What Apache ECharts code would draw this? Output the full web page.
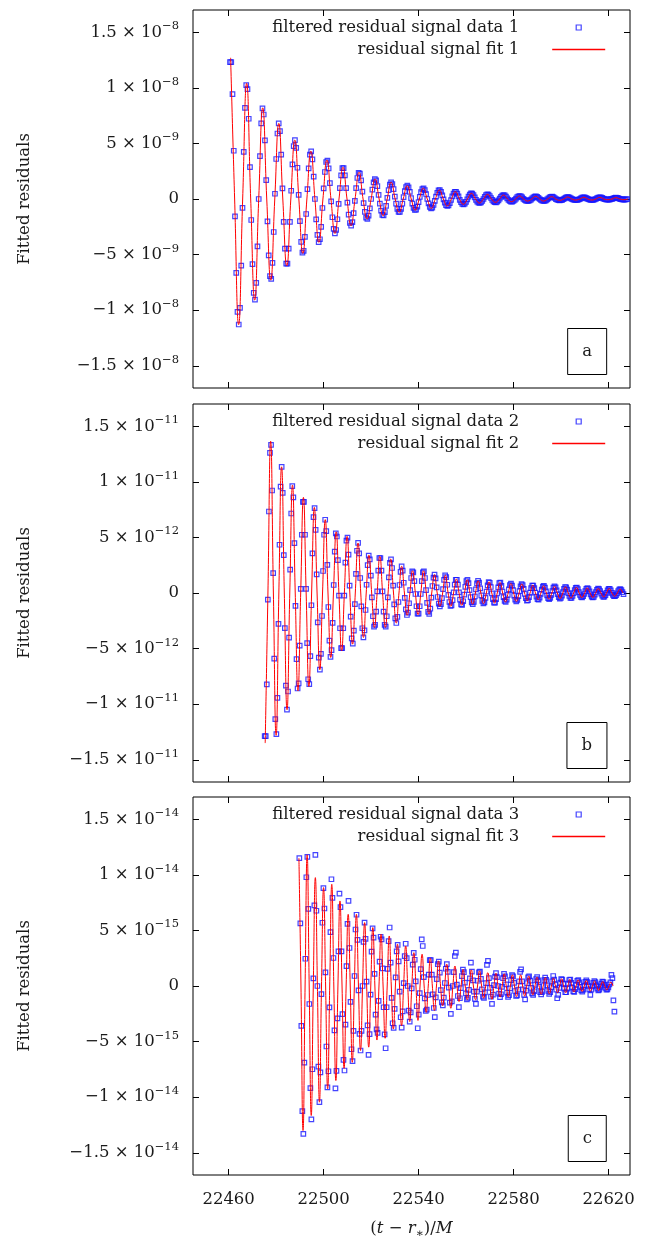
<!DOCTYPE html>
<html>
<head>
<meta charset="utf-8">
<script src="https://cdn.jsdelivr.net/npm/echarts@6/dist/echarts.min.js"></script>
<style>
  html, body { margin: 0; padding: 0; background: #fff; }
  #chart { width: 647px; height: 1243px; }
</style>
</head>
<body>
<div id="chart"></div>
<script>
  // tick positions
  const xTicks = [22460, 22500, 22540, 22580, 22620];
  const yTicks = [-15, -10, -5, 0, 5, 10, 15];

  // panel a : values in units of 1e-9, sampled from t = 22460.58 every 0.5258 M
  const dataA = [12.32,
    12.32, 9.44, 4.34, -1.57, -6.64, -10.16, -11.29, -9.79, -5.99, -0.79, 4.23, 8.20, 10.24,
    9.89, 7.22, 2.87, -1.89, -5.85, -8.44, -9.05, -7.54, -4.27, 0, 3.85, 6.80, 8.15,
    7.60, 5.27, 1.70, -2.01, -5.07, -6.94, -7.19, -5.75, -2.97, 0.47, 3.60, 5.89, 6.80,
    6.11, 4.00, 0.95, -2.05, -4.46, -5.82, -5.82, -4.46, -2.05, 0.74, 3.12, 4.76,
    5.30, 4.59, 2.81, 0.37, -1.99, -3.86, -4.83, -4.66, -3.40, -1.35, 0.89, 2.76, 3.99,
    4.28, 3.56, 2.02, 0, -1.83, -3.23, -3.88, -3.62, -2.51, -0.81, 0.96, 2.43, 3.33,
    3.45, 2.76, 1.42, -0.22, -1.64, -2.68, -3.10, -2.79, -1.82, -0.43, 0.97, 2.12, 2.77,
    2.77, 2.12, 0.97, -0.33, -1.41, -2.16, -2.40, -2.08, -1.27, -0.17, 0.98, 1.89, 2.36,
    2.28, 1.67, 0.66, -0.37, -1.16, -1.67, -1.79, -1.49, -0.85, 0, 0.85, 1.49, 1.79,
    1.67, 1.16, 0.37, -0.41, -1.04, -1.43, -1.48, -1.18, -0.61, 0.10, 0.79, 1.30, 1.50,
    1.35, 0.88, 0.21, -0.41, -0.89, -1.16, -1.16, -0.89, -0.41, 0.17, 0.71, 1.08,
    1.20, 1.04, 0.64, 0.08, -0.41, -0.79, -0.98, -0.95, -0.69, -0.28, 0.20, 0.62, 0.89,
    0.95, 0.80, 0.45, 0, -0.39, -0.70, -0.84, -0.78, -0.54, -0.17, 0.22, 0.56, 0.77,
    0.80, 0.64, 0.33, -0.04, -0.33, -0.55, -0.63, -0.57, -0.37, -0.09, 0.23, 0.49, 0.64,
    0.64, 0.49, 0.23, -0.07, -0.28, -0.43, -0.48, -0.42, -0.25, -0.03, 0.21, 0.40, 0.50,
    0.49, 0.35, 0.14, -0.07, -0.23, -0.33, -0.36, -0.30, -0.17, 0, 0.20, 0.35, 0.42,
    0.39, 0.27, 0.09, -0.08, -0.21, -0.29, -0.30, -0.24, -0.12, 0.03, 0.19, 0.31, 0.36,
    0.32, 0.21, 0.05, -0.08, -0.18, -0.23, -0.23, -0.18, -0.08, 0.04, 0.16, 0.24,
    0.27, 0.23, 0.14, 0.02, -0.07, -0.14, -0.18, -0.17, -0.13, -0.05, 0.05, 0.15, 0.22,
    0.24, 0.20, 0.11, 0, -0.08, -0.15, -0.18, -0.17, -0.12, -0.04, 0.06, 0.15, 0.20,
    0.21, 0.17, 0.09, -0.01, -0.06, -0.10, -0.12, -0.11, -0.07, -0.02, 0.06, 0.13, 0.17,
    0.17, 0.13, 0.06, -0.01, -0.05, -0.08, -0.09, -0.08, -0.05, -0.01, 0.06, 0.12, 0.15,
    0.14, 0.10, 0.04, -0.02, -0.06, -0.08, -0.09, -0.07, -0.04, 0, 0.07, 0.12, 0.15,
    0.14, 0.10, 0.03, -0.02, -0.04, -0.06, -0.06, -0.05, -0.02, 0.01, 0.06, 0.10, 0.12,
    0.11, 0.07, 0.02, -0.02, -0.04, -0.06, -0.06, -0.04, -0.02];
  // fit a : peak, node, trough, node ... from t = 22460.84 every 1.69 M
  const fitA = [12.7, 0, -11.3, 0, 10.4, 0, -9.1, 0, 8.2, 0, -7.3, 0, 6.8, 0, -6.0, 0,
    5.3, 0, -4.9, 0, 4.3, 0, -3.9, 0, 3.5, 0, -3.1, 0, 2.85, 0, -2.4, 0, 2.4, 0, -1.8, 0,
    1.8, 0, -1.5, 0, 1.5, 0, -1.2, 0, 1.2, 0, -1.0, 0, 0.96, 0, -0.84, 0, 0.81, 0, -0.63, 0,
    0.66, 0, -0.48, 0, 0.51, 0, -0.36, 0, 0.42, 0, -0.30, 0, 0.36, 0, -0.24, 0, 0.27, 0, -0.18, 0,
    0.24, 0, -0.18, 0, 0.21, 0, -0.12, 0, 0.18, 0, -0.09, 0, 0.15, 0, -0.09, 0, 0.15, 0, -0.06, 0,
    0.12, 0, -0.06, 0];

  // panel b : values in units of 1e-12, sampled from t = 22475.18 every 0.4470 M
  const dataB = [-12.87, -12.87, -8.22, -0.59, 7.33, 12.61,
    13.33, 9.22, 1.78, -5.91, -11.35, -12.69, -9.44, -2.77, 4.34, 9.57,
    11.34, 9.01, 3.41, -3.16, -8.33, -10.49, -8.86, -4.02, 2.10, 7.15, 9.62,
    8.60, 4.48, -1.15, -5.95, -8.59, -8.13, -4.73, 0.37, 5.24, 8.20,
    8.20, 5.24, 0.37, -4.51, -7.76, -8.20, -5.68, -1.10, 3.56, 6.83,
    7.63, 5.68, 1.67, -2.64, -5.82, -6.89, -5.47, -2.07, 1.98, 5.24, 6.59,
    5.57, 2.53, -1.26, -4.28, -5.75, -5.14, -2.68, 0.72, 3.72, 5.37,
    5.08, 2.96, -0.23, -3.17, -4.96, -4.96, -3.17, -0.23, 2.74, 4.71,
    4.98, 3.45, 0.67, -2.12, -4.08, -4.56, -3.39, -1.00, 1.72, 3.80,
    4.50, 3.57, 1.35, -1.20, -3.17, -4.00, -3.37, -1.53, 0.74, 2.51, 3.37,
    3.02, 1.57, -0.40, -2.09, -3.03, -2.86, -1.67, 0.14, 2.01, 3.15,
    3.15, 2.01, 0.14, -1.67, -2.86, -3.03, -2.09, -0.40, 1.41, 2.71,
    3.02, 2.25, 0.66, -1.03, -2.28, -2.70, -2.14, -0.81, 0.72, 1.90, 2.40,
    2.02, 0.92, -0.43, -1.47, -1.98, -1.77, -0.92, 0.26, 1.35, 1.95,
    1.85, 1.07, -0.09, -1.19, -1.86, -1.86, -1.19, -0.09, 1.07, 1.85,
    1.95, 1.35, 0.26, -0.88, -1.69, -1.88, -1.40, -0.41, 0.63, 1.39,
    1.65, 1.31, 0.50, -0.36, -0.95, -1.20, -1.01, -0.46, 0.35, 1.18, 1.59,
    1.42, 0.74, -0.16, -0.81, -1.17, -1.11, -0.64, 0.05, 0.76, 1.19,
    1.19, 0.76, 0.05, -0.59, -1.02, -1.07, -0.74, -0.14, 0.55, 1.06,
    1.19, 0.88, 0.26, -0.38, -0.84, -1.00, -0.79, -0.30, 0.33, 0.87, 1.10,
    0.93, 0.42, -0.21, -0.70, -0.94, -0.84, -0.44, 0.13, 0.68, 0.98,
    0.92, 0.54, -0.04, -0.55, -0.86, -0.86, -0.55, -0.04, 0.51, 0.88,
    0.93, 0.64, 0.12, -0.37, -0.71, -0.79, -0.59, -0.17, 0.33, 0.72,
    0.85, 0.67, 0.26, -0.23, -0.60, -0.75, -0.63, -0.29, 0.17, 0.59, 0.79,
    0.71, 0.37, -0.09, -0.47, -0.68, -0.65, -0.38, 0.03, 0.43, 0.67,
    0.67, 0.43, 0.03, -0.32, -0.55, -0.59, -0.41, -0.08, 0.30, 0.58,
    0.64, 0.48, 0.14, -0.21, -0.46, -0.55, -0.44, -0.17, 0.18, 0.48, 0.60,
    0.51, 0.23, -0.11, -0.37, -0.50, -0.44, -0.23, 0.07, 0.37, 0.54,
    0.51, 0.30, -0.02, -0.27, -0.43, -0.43, -0.27, -0.02, 0.27, 0.46,
    0.49, 0.34, 0.07, -0.18, -0.35, -0.40, -0.29, -0.09, 0.17, 0.38,
    0.45, 0.36, 0.14, -0.12, -0.32, -0.40, -0.34, -0.15, 0.09, 0.29, 0.40,
    0.35, 0.18, -0.05, -0.24, -0.34, -0.32, -0.19, 0.02, 0.24, 0.38,
    0.38, 0.24, 0.02, -0.16, -0.28, -0.29, -0.20, -0.04, 0.16, 0.31,
    0.35, 0.26, 0.08, -0.11];
  // fit b : trough, node, peak ... from t = 22475.40 every 1.1495 M
  const fitB = [-13.5, 0, 13.65, 0, -12.8, 0, 11.35, 0, -10.5, 0, 9.7, 0, -8.8, 0,
    8.6, 0, -8.4, 0, 7.7, 0, -6.9, 0, 6.6, 0, -5.8, 0, 5.5, 0, -5.2, 0, 5.1, 0, -4.6, 0,
    4.5, 0, -4.0, 0, 3.4, 0, -3.1, 0, 3.3, 0, -3.1, 0, 3.05, 0, -2.7, 0, 2.4, 0, -2.0, 0,
    2.0, 0, -1.95, 0, 2.0, 0, -1.9, 0, 1.65, 0, -1.2, 0, 1.6, 0, -1.2, 0, 1.25, 0, -1.1, 0,
    1.2, 0, -1.0, 0, 1.1, 0, -0.95, 0, 1.0, 0, -0.9, 0, 0.95, 0, -0.8, 0, 0.85, 0, -0.75, 0,
    0.8, 0, -0.7, 0, 0.7, 0, -0.6, 0, 0.65, 0, -0.55, 0, 0.6, 0, -0.5, 0, 0.55, 0, -0.45, 0,
    0.5, 0, -0.4, 0, 0.45, 0, -0.4, 0, 0.4, 0, -0.35, 0, 0.4, 0, -0.3, 0, 0.35, 0];

  // panel c : values in units of 1e-15, sampled from t = 22489.77 every 0.4225 M
  const dataC = [
    11.5, 5.63, -3.58, -11.26, -13.3, -6.89, 2.45, 9.78,
    11.62, 6.94, -1.62, -9.18, -12.0, -7.49, 0.68, 7.25,
    11.8, 6.77, 0, -7.26, -10.44, -7.77, -0.73, 5.69, 8.80,
    6.97, 1.23, -5.44, -9.11, -7.67, -1.92, 4.85, 9.6,
    7.92, 2.52, -3.99, -9.2, -7.64, -2.91, 3.11, 8.3,
    7.09, 3.11, -2.53, -6.65, -7.6, -3.47, 1.78, 5.59,
    7.65, 3.42, -1.43, -5.69, -6.76, -4.03, 0.90, 5.08,
    6.41, 4.15, -0.40, -4.31, -5.80, -4.03, 0, 3.96, 5.70,
    4.24, 0.40, -3.54, -6.2, -4.33, -0.77, 3.09, 5.18,
    4.36, 1.09, -2.58, -3.9, -4.21, -1.34, 2.19, 4.43,
    4.19, 1.59, -1.91, -4.36, -5.6, -1.91, 1.54, 4.04,
    5.26, 2.11, -1.07, -3.35, -3.76, -2.05, 0.78, 3.12,
    3.70, 2.21, -0.50, -2.81, -3.75, -2.29, 0.25, 2.68,
    3.8, 2.50, 0, -2.22, -3.20, -2.38, -0.22, 1.93, 2.98,
    2.36, 0.42, -1.82, -3.8, -2.57, -0.64, 1.52, 4.2,
    3.6, 0.79, -1.11, -2.25, -2.13, -0.81, 1.02, 2.32,
    2.32, 1.02, -0.75, -1.98, -2.8, -1.03, 0.62, 1.96,
    2.19, 1.20, -0.37, -1.48, -1.75, -1.05, 0.27, 1.55,
    1.96, 1.27, -0.14, -1.49, -2.5, -1.39, 0, 1.25, 2.7,
    3.0, 0.13, -0.90, -1.9, -1.10, -0.19, 0.88, 1.48,
    1.24, 0.31, -0.66, -1.20, -1.07, -0.34, 0.68, 2.1,
    1.30, 0.50, -0.50, -1.15, -1.6, -0.50, 0.47, 1.23,
    1.30, 0.64, -0.30, -0.95, -1.07, -0.58, 0.25, 1.9,
    2.26, 0.71, -0.17, -0.95, -1.6, -0.77, 0.08, 0.85,
    1.15, 0.80, 0, -0.69, -1.00, -0.74, -0.07, 0.71, 1.09,
    0.87, 0.15, -0.59, -0.98, -0.83, -0.21, 0.53, 0.97,
    0.87, 0.28, -0.45, -0.90, -0.85, -0.32, 0.41, 1.27,
    1.5, 0.41, -0.31, -0.81, -1.2, -0.42, 0.25, 0.78,
    0.87, 0.48, -0.17, -0.66, -0.79, -0.47, 0.11, 0.63,
    0.80, 0.51, -0.05, -0.56, -0.75, -0.52, 0, 0.52, 0.75,
    0.56, 0.05, -0.45, -0.70, -0.55, -0.10, 0.41, 0.9,
    0.58, 0.15, -0.32, -1.1, -0.8, -0.17, 0.31, 0.62,
    0.58, 0.22, -0.24, -0.56, -0.56, -0.24, 0.21, 0.54,
    0.57, 0.28, -0.15, -0.48, -0.53, -0.29, 0.11, 0.46,
    0.54, 0.32, -0.07, -0.39, -0.50, -0.32, 0.03, 0.37,
    0.50, 0.35, 0, -0.31, -0.8, -0.33, -0.03, 0.29, 0.45,
    0.35, 0.06, -0.24, -0.39, -0.33, -0.08, 0.21, 0.39,
    0.35, 0.11, -0.16, -0.33, -0.31, -0.12, 0.14, 0.32,
    1.0, 0.7, -1.3, -2.3];
  // fit c : peak, node, trough, node ... from t = 22489.60 every 0.8643 M
  const fitC = [11.5, 0, -13.0, 0, 11.8, 0, -11.65, 0, 9.75, 0, -10.45, 0, 8.85, 0, -9.25, 0,
    9.15, 0, -8.5, 0, 7.65, 0, -7.4, 0, 6.45, 0, -6.86, 0, 6.45, 0, -5.8, 0, 5.7, 0, -5.5, 0,
    5.26, 0, -4.86, 0, 4.66, 0, -4.7, 0, 4.5, 0, -3.87, 0, 3.76, 0, -3.57, 0, 3.6, 0, -3.2, 0,
    3.0, 0, -3.1, 0, 2.86, 0, -2.37, 0, 2.5, 0, -2.2, 0, 2.26, 0, -1.78, 0, 1.97, 0, -2.0, 0,
    1.8, 0, -1.4, 0, 1.5, 0, -1.24, 0, 1.45, 0, -1.24, 0, 1.37, 0, -1.1, 0, 1.2, 0, -1.2, 0,
    1.15, 0, -1.0, 0, 1.1, 0, -1.0, 0, 1.0, 0, -0.95, 0, 1.0, 0, -0.9, 0, 0.9, 0, -0.8, 0,
    0.8, 0, -0.75, 0, 0.75, 0, -0.7, 0, 0.7, 0, -0.6, 0, 0.65, 0, -0.6, 0, 0.6, 0, -0.55, 0,
    0.55, 0, -0.5, 0, 0.5, 0, -0.45, 0, 0.45, 0, -0.4, 0, 0.4, 0, -0.35, 0, 0.35, 0];

  const FONT = 'DejaVu Serif';
  const INK = '#1a1a1a';
  const RED = '#ff0000';
  const BLUE = '#1515ff';
  const gridTop = [10, 404, 797];

  const panels = [
    { n: 1, tag: 'a', exp: [8, 9], data: dataA, t0: 22460.58, dt: 0.5258, fit: fitA, ft0: 22460.84, fdt: 1.69 },
    { n: 2, tag: 'b', exp: [11, 12], data: dataB, t0: 22475.18, dt: 0.4470, fit: fitB, ft0: 22475.40, fdt: 1.1495 },
    { n: 3, tag: 'c', exp: [14, 15], data: dataC, t0: 22489.77, dt: 0.4225, fit: fitC, ft0: 22489.60, fdt: 0.8643 }
  ];

  function yLabel(exp) {
    return function (v) {
      if (v === 0) return '{m|0}';
      const sign = v < 0 ? '\u2212' : '';
      const a = Math.abs(v);
      if (a === 5) return '{m|' + sign + '5 \u00d7 10}{e|\u2212' + exp[1] + '}';
      return '{m|' + sign + (a === 15 ? '1.5' : '1') + ' \u00d7 10}{e|\u2212' + exp[0] + '}';
    };
  }

  const option = {
    animation: false,
    backgroundColor: '#fff',
    grid: [], xAxis: [], yAxis: [], series: [], legend: [], title: []
  };

  panels.forEach(function (p, i) {
    const top = gridTop[i];
    const dataName = 'filtered residual signal data ' + p.n;
    const fitName = 'residual signal fit ' + p.n;

    option.grid.push({
      left: 193, width: 437, top: top, height: 378,
      show: true, borderColor: '#000', borderWidth: 1
    });

    ['bottom', 'top'].forEach(function (pos) {
      const last = i === 2 && pos === 'bottom';
      option.xAxis.push({
        type: 'value', gridIndex: i, position: pos, min: 22445, max: 22629,
        axisLine: { show: false, onZero: false },
        splitLine: { show: false },
        axisTick: { show: true, inside: true, length: 6, customValues: xTicks, lineStyle: { color: '#000' } },
        axisLabel: {
          show: last, customValues: xTicks, margin: 16,
          formatter: function (v) { return String(v); },
          fontFamily: FONT, fontSize: 16.5, color: INK
        },
        name: last ? '{p|(}{i|t}{p| \u2212 }{i|r}{s|\u2217}{p|)/}{i|M}' : '',
        nameLocation: 'middle', nameGap: 43,
        nameTextStyle: {
          rich: {
            p: { fontFamily: FONT, fontSize: 16.5, color: INK, lineHeight: 22 },
            i: { fontFamily: FONT, fontSize: 16.5, color: INK, fontStyle: 'italic', lineHeight: 22 },
            s: { fontFamily: FONT, fontSize: 12, color: INK, verticalAlign: 'bottom', lineHeight: 12 }
          }
        }
      });
    });

    ['left', 'right'].forEach(function (pos) {
      const main = pos === 'left';
      option.yAxis.push({
        type: 'value', gridIndex: i, position: pos, min: -17, max: 17,
        axisLine: { show: false, onZero: false },
        splitLine: { show: false },
        axisTick: { show: true, inside: true, length: 6, customValues: yTicks, lineStyle: { color: '#000' } },
        axisLabel: {
          show: main, customValues: yTicks, margin: 14,
          formatter: yLabel(p.exp),
          rich: {
            m: { fontFamily: FONT, fontSize: 16.5, color: INK, lineHeight: 24 },
            e: { fontFamily: FONT, fontSize: 11.5, color: INK, verticalAlign: 'top', lineHeight: 12 }
          }
        },
        name: main ? 'Fitted residuals' : '',
        nameLocation: 'middle', nameGap: 160,
        nameTextStyle: { fontFamily: FONT, fontSize: 16.5, color: INK }
      });
    });

    option.series.push({
      type: 'scatter', name: dataName,
      xAxisIndex: 2 * i, yAxisIndex: 2 * i,
      symbol: 'rect', symbolSize: 4.5,
      itemStyle: { color: 'rgba(255,255,255,0)', borderColor: BLUE, borderWidth: 1.2 },
      data: p.data.map(function (v, k) { return [p.t0 + k * p.dt, v]; }),
      z: 2
    });
    option.series.push({
      type: 'line', name: fitName,
      xAxisIndex: 2 * i, yAxisIndex: 2 * i,
      symbol: 'none', smooth: 0.5,
      color: RED,
      lineStyle: { color: RED, width: 1 },
      itemStyle: { color: RED },
      data: p.fit.map(function (v, k) { return [p.ft0 + k * p.fdt, v]; }),
      z: 3
    });

    option.legend.push({
      orient: 'vertical', align: 'right', right: 41, top: top + 9, padding: 0,
      itemWidth: 53, itemHeight: 5, itemGap: 5, selectedMode: false,
      textStyle: { fontFamily: FONT, fontSize: 16.5, color: INK, padding: [0, 28, 0, 0] },
      data: [
        { name: dataName, icon: 'path://M0 0H10V10H0Z',
          itemStyle: { color: 'rgba(255,255,255,0)', borderColor: BLUE, borderWidth: 1.2 } },
        // the line sample only: hide the marker ECharts adds in the middle
        { name: fitName, itemStyle: { opacity: 0 }, lineStyle: { color: RED, width: 1.6, opacity: 1 } }
      ]
    });

    option.title.push({
      text: p.tag, right: 40, top: top + 318,
      padding: [15, 15], borderColor: '#000', borderWidth: 1,
      textStyle: { fontFamily: FONT, fontSize: 16.5, fontWeight: 'normal', color: INK }
    });
  });

  const chart = echarts.init(document.getElementById('chart'));
  chart.setOption(option);
</script>
</body>
</html>
